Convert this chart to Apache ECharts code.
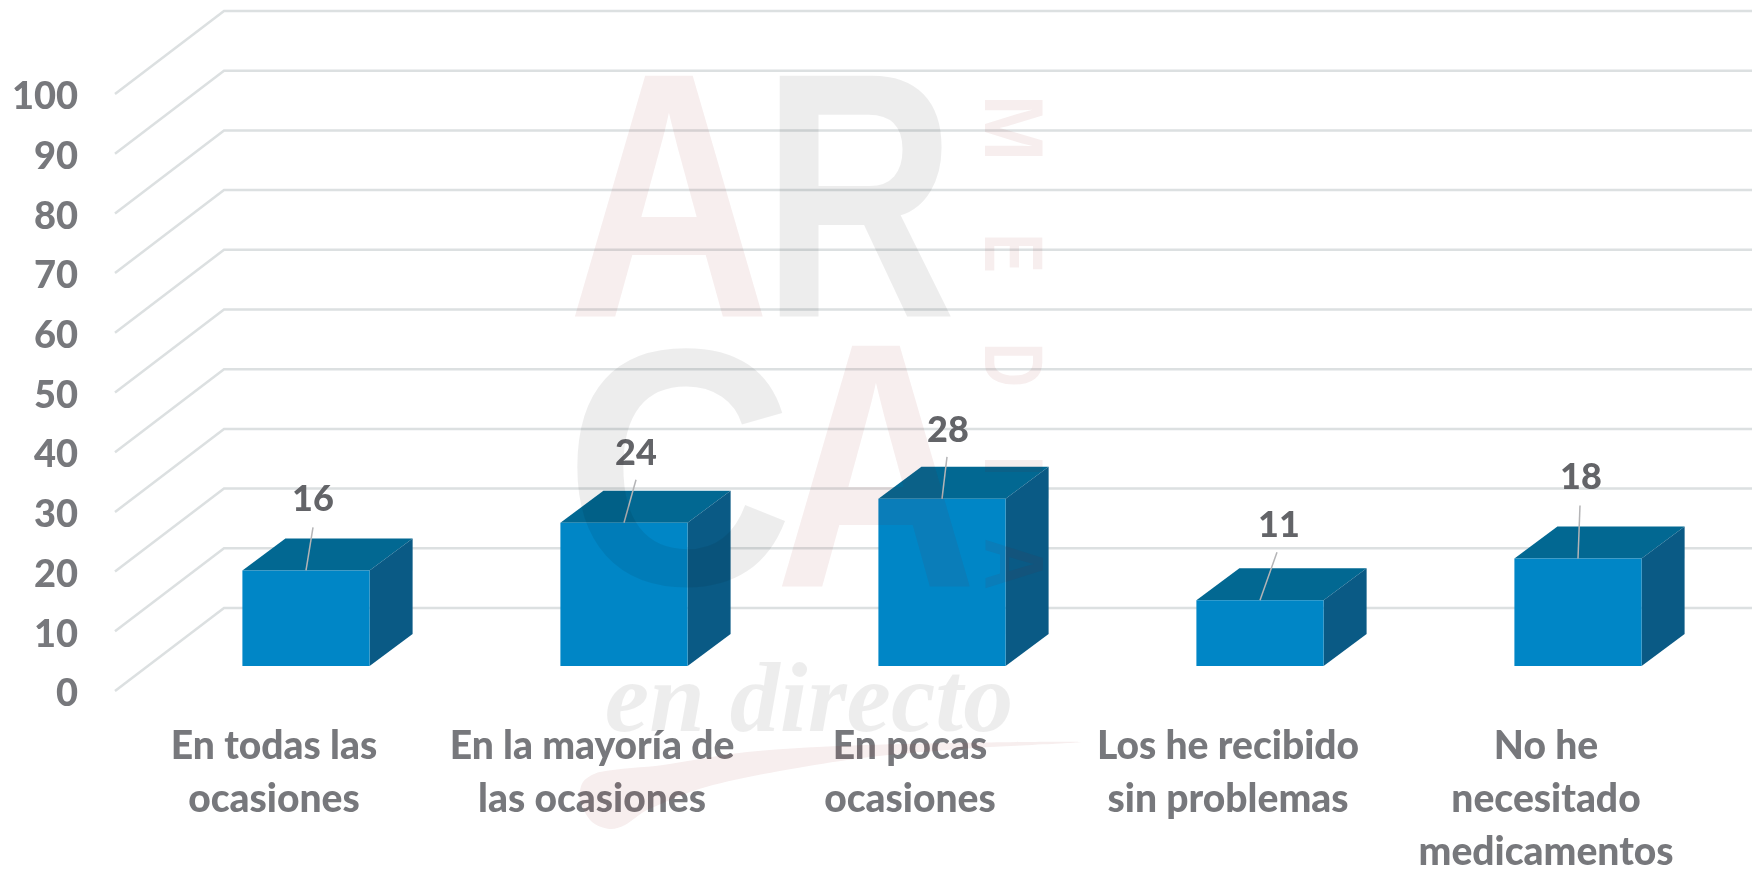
<!DOCTYPE html>
<html>
<head>
<meta charset="utf-8">
<style>html,body{margin:0;padding:0;background:#fff}#c{width:1752px;height:869px}</style>
<script src="https://cdn.jsdelivr.net/npm/echarts@6/dist/echarts.min.js"></script>
</head>
<body>
<div id="c"></div>
<script>
const categories = ['En todas las\nocasiones', 'En la mayoría de\nlas ocasiones', 'En pocas\nocasiones', 'Los he recibido\nsin problemas', 'No he\nnecesitado\nmedicamentos'];
const values = [16, 24, 28, 11, 18];
const yTicks = [0, 10, 20, 30, 40, 50, 60, 70, 80, 90, 100];

// Layout of the pseudo-3D drawing (pixels)
const backDX = 109, backDY = 83;        // wall depth for gridlines
const barShiftX = 32, barShiftY = 25;   // bars sit a bit inside the floor
const barDX = 43, barDY = 32;           // bar depth
const barRatio = 0.4;
// leader end and label centre relative to bar's top-centre, per bar
const leaderShift = [[7, -43], [12, -43], [5, -42], [17, -48], [2, -53]];
const labelShift = [[7, -71], [12, -69], [6, -68], [19, -75], [3, -81]];

const FONT = 'Lato';
const PINK = 'rgba(140,12,12,0.07)', GREY = 'rgba(0,0,0,0.07)';

const chart = echarts.init(document.getElementById('c'), null, {renderer: 'canvas'});

function wm(text, x, y, size, fill, sx, extra) {
  return Object.assign({
    type: 'text', x, y, scaleX: sx, z: 100, silent: true,
    style: Object.assign({text, fontFamily: 'Liberation Sans', fontWeight: 'bold', fontSize: size, fill,
      align: 'center', verticalAlign: 'middle'}, extra && extra.style)
  }, extra && extra.el);
}
const mediaLetters = [['M', 128, 0.95], ['E', 253, 0.7], ['D', 365, 0.73], ['I', 466, 1], ['A', 564, 0.86]];
const swooshOutline = [[1080,742],[867,745],[747,752],[663,765],[600,772],[583,782],[580,800],[592,822],[610,829],[625,825],[647,810],[713,785],[847,760],[960,749]];

chart.setOption({
  backgroundColor: '#ffffff',
  animation: false,
  grid: {left: 115, top: 94, width: 1590, height: 597, containLabel: false, outerBoundsMode: 'none'},
  xAxis: {
    type: 'category', data: categories,
    axisLine: {show: false}, axisTick: {show: false}, splitLine: {show: false},
    axisLabel: {interval: 0, margin: 29, lineHeight: 53, fontFamily: FONT, fontWeight: 900, fontSize: 39, color: '#77787c'}
  },
  yAxis: {
    type: 'value', min: 0, max: 100, interval: 10,
    axisLine: {show: false}, axisTick: {show: false}, splitLine: {show: false},
    axisLabel: {margin: 37, align: 'right', fontFamily: FONT, fontWeight: 900, fontSize: 38, color: '#77787c', verticalAlign: 'top', lineHeight: 6, alignMinLabel: 'right', alignMaxLabel: 'right'}
  },
  series: [
    {
      type: 'custom', name: 'grid', z: 1, clip: false, silent: true,
      data: yTicks.map(t => [0, t]),
      encode: {x: 0, y: 1},
      renderItem(params, api) {
        const p = api.coord([0, api.value(1)]);
        const x0 = params.coordSys.x;
        return {type: 'polyline', shape: {points: [[x0, p[1]], [x0 + backDX, p[1] - backDY], [api.getWidth(), p[1] - backDY]]},
          style: {fill: 'none', stroke: '#dce0e1', lineWidth: 2.5}};
      }
    },
    {
      type: 'custom', name: 'bars', z: 2, clip: false, silent: true,
      data: values.map((v, i) => [i, v]),
      encode: {x: 0, y: 1},
      renderItem(params, api) {
        const i = params.dataIndex;
        const top = api.coord([i, api.value(1)]);
        const bottom = api.coord([i, 0]);
        const w = api.size([1, 0])[0] * barRatio;
        const cx = top[0] + barShiftX;
        const xl = cx - w / 2, xr = cx + w / 2;
        const yt = top[1] - barShiftY, yb = bottom[1] - barShiftY;
        const ls = leaderShift[i], lb = labelShift[i];
        return {type: 'group', children: [
          {type: 'polygon', shape: {points: [[xl, yt], [xr, yt], [xr + barDX, yt - barDY], [xl + barDX, yt - barDY]]}, style: {fill: '#026892'}},
          {type: 'polygon', shape: {points: [[xr, yt], [xr + barDX, yt - barDY], [xr + barDX, yb - barDY], [xr, yb]]}, style: {fill: '#0a5a85'}},
          {type: 'rect', shape: {x: xl, y: yt, width: w, height: yb - yt}, style: {fill: '#0086c6'}},
          {type: 'line', shape: {x1: cx, y1: yt, x2: cx + ls[0], y2: yt + ls[1]}, style: {stroke: '#b4b4b6', lineWidth: 1.5}},
          {type: 'text', x: cx + lb[0], y: yt + lb[1], style: {text: String(api.value(1)), fontFamily: FONT, fontWeight: 900, fontSize: 36, fill: '#636468', align: 'center', verticalAlign: 'middle'}}
        ]};
      }
    }
  ],
  graphic: {elements: [
    wm('A', 669, 220, 350, PINK, 0.8),
    wm('R', 859, 220, 350, GREY, 0.77),
    wm('C', 679, 491, 338, GREY, 0.94),
    wm('A', 876, 490, 350, PINK, 0.8),
    ...mediaLetters.map(m => wm(m[0], 1008, m[1], 84, PINK, m[2], {el: {rotation: -Math.PI / 2}})),
    wm('en directo', 809, 705, 100, GREY, 1, {style: {fontFamily: 'Liberation Serif', fontStyle: 'italic', fontWeight: 'bold'}}),
    {type: 'polygon', z: 99, silent: true, shape: {points: swooshOutline, smooth: 0.3}, style: {fill: PINK}}
  ]}
});
</script>
</body>
</html>
